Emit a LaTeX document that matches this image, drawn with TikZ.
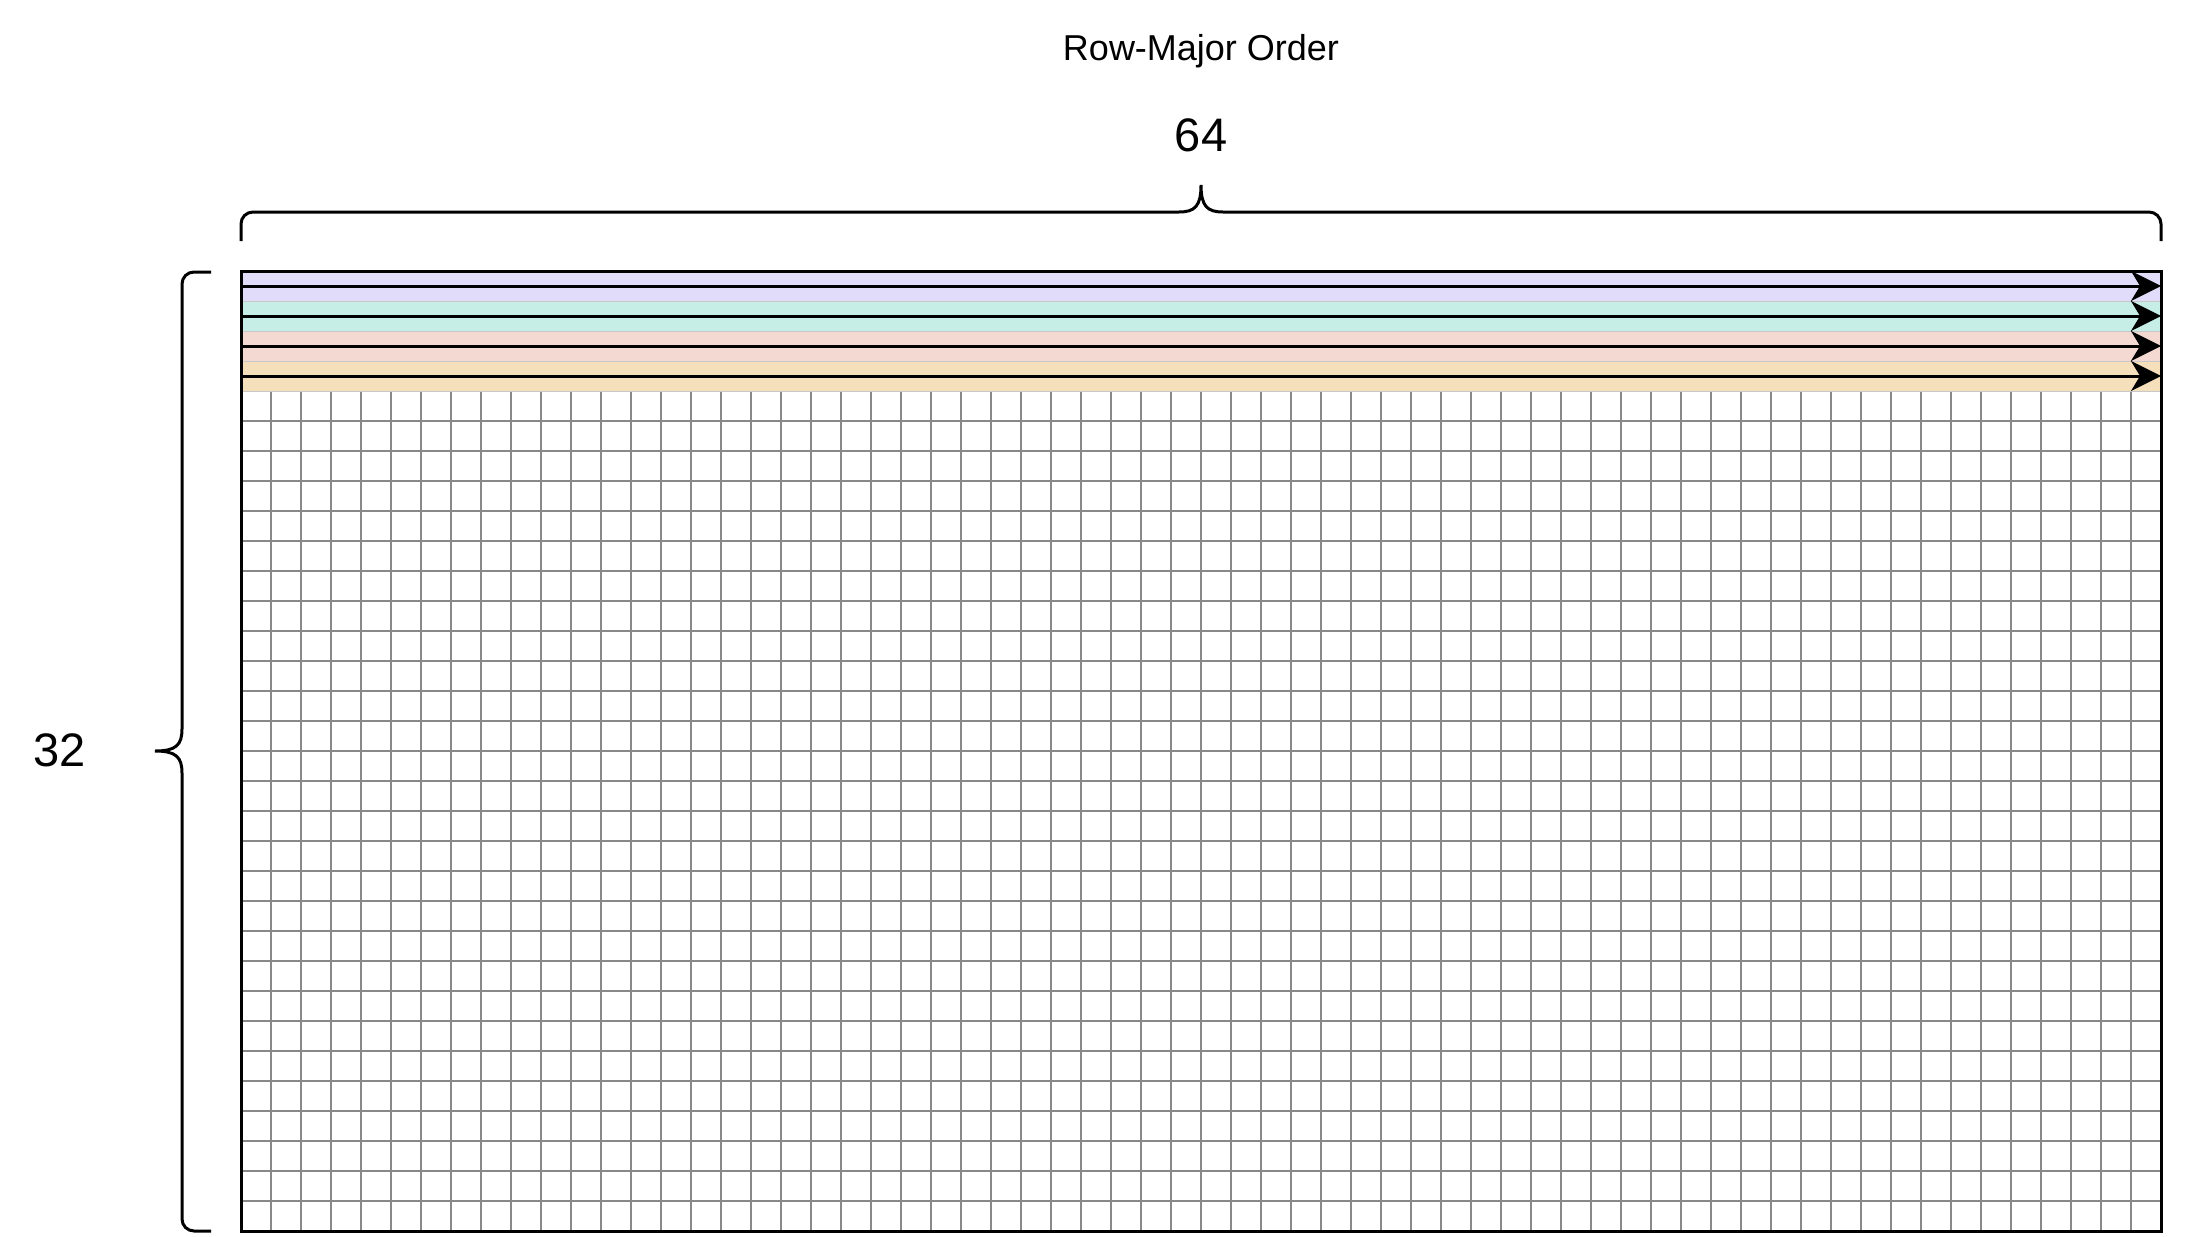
\documentclass[tikz,border=0pt]{standalone}
\usepackage{fontspec}
\setmainfont{Liberation Sans}
\usetikzlibrary{arrows.meta}
\definecolor{rowA}{RGB}{225,220,250}
\definecolor{rowB}{RGB}{198,238,230}
\definecolor{rowC}{RGB}{243,217,210}
\definecolor{rowD}{RGB}{246,224,188}
\definecolor{gridgray}{RGB}{136,136,136}
\definecolor{rowedge}{RGB}{200,200,200}
\tikzset{
  gridline/.style={draw=gridgray, line width=1.1pt},
  rowband/.style={draw=rowedge, line width=0.5pt},
  frame/.style={draw=black, line width=1.5pt},
  bracepath/.style={draw=black, line width=1.5pt},
  flow/.style={draw=black, line width=1.5pt, -{Stealth[length=15pt,width=15pt,inset=4.5pt]}},
  lbl/.style={inner sep=0pt, text=black}
}
\begin{document}
\begin{tikzpicture}[x=0.5pt,y=-0.5pt]
\useasboundingbox (0,0) rectangle (2187,1236);
% grid
\foreach \i in {1,...,63} {
  \draw[gridline] ({241+30*\i},271) -- ({241+30*\i},1231);
}
\foreach \j in {1,...,31} {
  \draw[gridline] (241,{271+30*\j}) -- (2161,{271+30*\j});
}
% colored rows
\foreach \j/\c in {0/rowA,1/rowB,2/rowC,3/rowD} {
  \filldraw[rowband, fill=\c] (241,{271+30*\j}) rectangle (2161,{301+30*\j});
}
% frame
\draw[frame] (241,271) rectangle (2161,1231);
% arrows
\foreach \j in {0,1,2,3} {
  \coordinate (s\j) at (241,{286+30*\j});
  \coordinate (e\j) at (2161,{286+30*\j});
  \draw[flow] (s\j) -- (e\j);
}
% top brace
\draw[bracepath] (241,241) [rounded corners=6pt]-- (241,212) [sharp corners]-- (1179,212)
  .. controls (1195,212) and (1201,206) .. (1201,185)
  .. controls (1201,206) and (1207,212) .. (1223,212)
  [rounded corners=6pt]-- (2161,212) -- (2161,241);
% left brace
\draw[bracepath] (211,272) [rounded corners=6pt]-- (182,272) [sharp corners]-- (182,729)
  .. controls (182,745) and (176,751) .. (155,751)
  .. controls (176,751) and (182,757) .. (182,773)
  [rounded corners=6pt]-- (182,1231) -- (211,1231);
% labels
\node[lbl, font=\fontsize{18pt}{21pt}\selectfont] (title) at (1201,51) {Row-Major Order};
\node[lbl, font=\fontsize{23.5pt}{28pt}\selectfont] (cols) at (1201,135) {64};
\node[lbl, font=\fontsize{23.5pt}{28pt}\selectfont] (rows) at (60,750) {32};
\end{tikzpicture}
\end{document}
